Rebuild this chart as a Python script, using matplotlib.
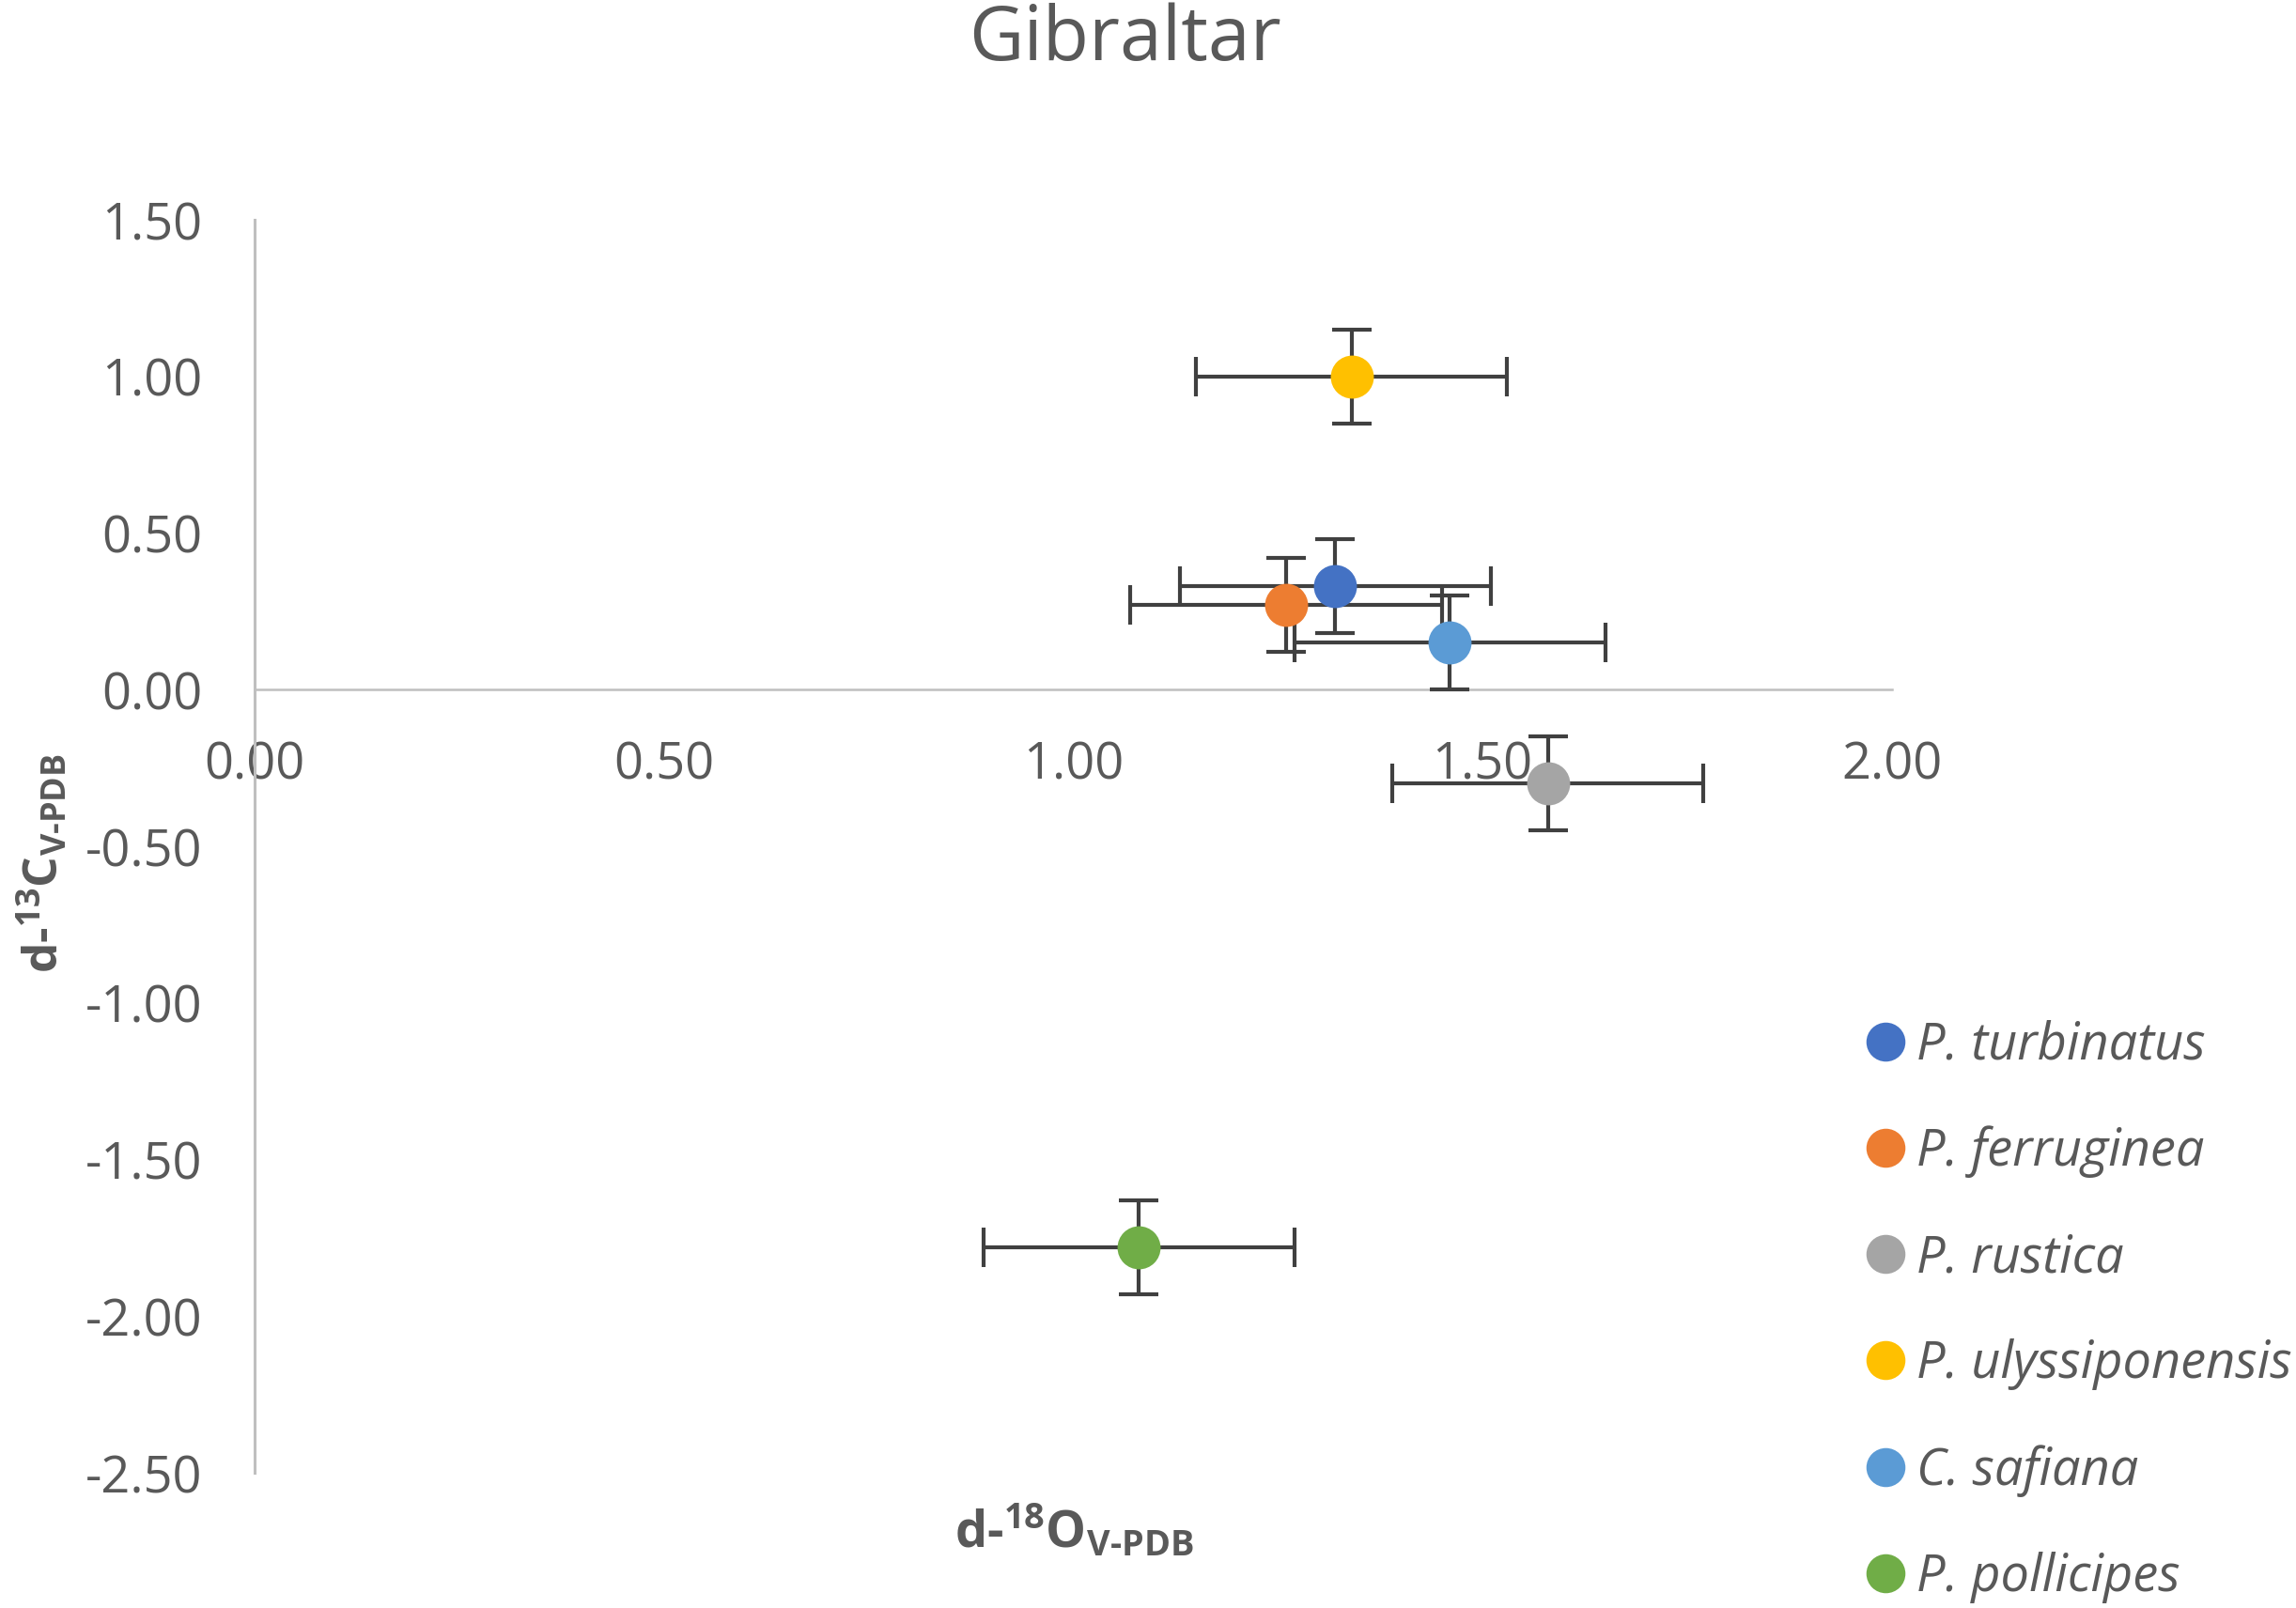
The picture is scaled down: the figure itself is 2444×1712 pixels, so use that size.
import numpy as np
import matplotlib
matplotlib.use('Agg')
import matplotlib.pyplot as plt
from matplotlib.ticker import FormatStrFormatter, MultipleLocator

plt.rcParams['font.family'] = ['Open Sans', 'DejaVu Sans']
plt.rcParams['axes.unicode_minus'] = False
plt.rcParams['mathtext.fontset'] = 'custom'
plt.rcParams['mathtext.rm'] = 'Open Sans:bold'
plt.rcParams['mathtext.it'] = 'Open Sans:bold'
plt.rcParams['mathtext.bf'] = 'Open Sans:bold'

# data
species = ['P. turbinatus', 'P. ferruginea', 'P. rustica',
           'P. ulyssiponensis', 'C. safiana', 'P. pollicipes']
d18O = [1.32, 1.26, 1.58, 1.34, 1.46, 1.08]
d13C = [0.33, 0.27, -0.30, 1.00, 0.15, -1.78]
d18O_err = [0.19, 0.19, 0.19, 0.19, 0.19, 0.19]
d13C_err = [0.15, 0.15, 0.15, 0.15, 0.15, 0.15]
colors = ['#4472C4', '#ED7D31', '#A5A5A5', '#FFC000', '#5B9BD5', '#70AD47']

text_col = '#595959'
axis_col = '#BFBFBF'

fig = plt.figure(figsize=(12.22, 8.56), dpi=200)
ax = fig.add_axes([0.1109, 0.0841, 0.7131, 0.7792])

for i in range(len(species)):
    ax.errorbar(d18O[i], d13C[i], xerr=d18O_err[i], yerr=d13C_err[i],
                fmt='o', color=colors[i], markersize=15.5, ecolor='#404040',
                elinewidth=1.5, capsize=7.5, capthick=1.5, label=species[i],
                zorder=3)

ax.set_xlim(0, 2.0)
ax.set_ylim(-2.5, 1.5)
ax.xaxis.set_major_locator(MultipleLocator(0.5))
ax.yaxis.set_major_locator(MultipleLocator(0.5))
ax.xaxis.set_major_formatter(FormatStrFormatter('%.2f'))
ax.yaxis.set_major_formatter(FormatStrFormatter('%.2f'))

for s in ['top', 'right']:
    ax.spines[s].set_visible(False)
ax.spines['bottom'].set_position(('data', 0))
ax.spines['left'].set_color(axis_col)
ax.spines['bottom'].set_color(axis_col)
ax.spines['left'].set_linewidth(1.1)
ax.spines['bottom'].set_linewidth(0.9)
ax.tick_params(axis='both', length=0, labelsize=19.5, labelcolor=text_col)
ax.tick_params(axis='x', pad=19)
ax.tick_params(axis='y', pad=20)

fig.text(0.49, 0.975, 'Gibraltar', ha='center', va='center',
         fontsize=29, color=text_col)

fig.text(0.468, 0.048, r'd-$^{18}$O$_{\mathrm{V\text{-}PDB}}$', ha='center', va='center',
         fontsize=19.5, fontweight='bold', color=text_col)
fig.text(0.019, 0.463, r'd-$^{13}$C$_{\mathrm{V\text{-}PDB}}$', ha='center', va='center',
         rotation=90, fontsize=18.5, fontweight='bold', color=text_col)

handles, labels = ax.get_legend_handles_labels()
handles = [h[0] for h in handles]
leg = fig.legend(handles, labels, loc='upper left', bbox_to_anchor=(0.8057, 0.3785),
                 frameon=False, prop={'style': 'italic', 'size': 19.5},
                 labelcolor=text_col, handlelength=0.6, handletextpad=0.3,
                 labelspacing=1.07, markerscale=0.9, borderaxespad=0)

fig.savefig('out.png', dpi=200)
